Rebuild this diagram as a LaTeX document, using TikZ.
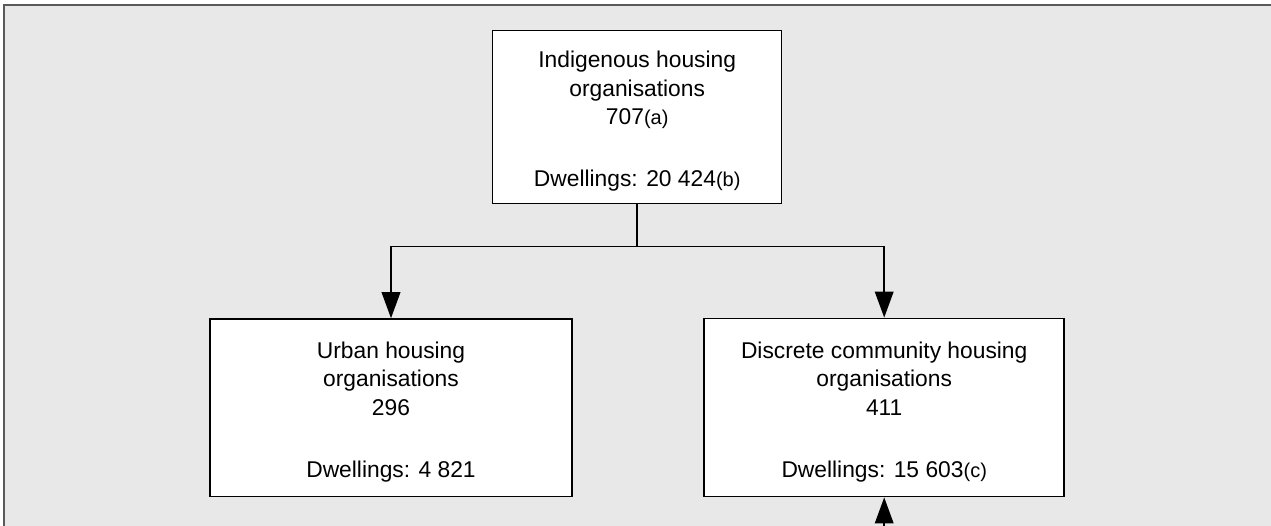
\documentclass[tikz,border=0pt]{standalone}
\usepackage{fontspec}
\setmainfont{Liberation Sans}
\usetikzlibrary{arrows.meta}
\definecolor{bggray}{HTML}{E8E8E8}
\definecolor{framegray}{HTML}{5A5A5A}
\newcommand{\fn}[1]{{\fontsize{15}{21.4}\selectfont #1}}
\tikzset{
  orgbox/.style={draw=black, fill=white, line width=1.1pt, inner sep=0pt},
  orgtxt/.style={align=center, inner sep=0pt, anchor=north, font=\fontsize{17.1}{21.4}\selectfont},
  link/.style={line width=1.1pt, black},
  arr/.style={link, -{Triangle[length=19.5pt, width=14pt]}}
}
\begin{document}
\begin{tikzpicture}[x=0.75pt, y=-0.75pt]
\useasboundingbox (0,0) rectangle (1271,525);
\clip (0,0) rectangle (1271,525);
\fill[bggray] (3.5,4.5) rectangle (1275,530);
\draw[framegray, line width=1.5pt] (3.5,530) -- (3.5,4.5) -- (1275,4.5);

\node[orgbox, minimum width=289*0.75pt, minimum height=172.6*0.75pt] (top) at (637.2,117) {};
\node[orgbox, minimum width=362*0.75pt, minimum height=177.7*0.75pt] (urban) at (391,407.8) {};
\node[orgbox, minimum width=360*0.75pt, minimum height=178.4*0.75pt] (disc) at (884.2,407.5) {};

\node[orgtxt] (toptxt) at (637.2,51) {Indigenous housing\\organisations\\707\fn{(a)}\\[24.7pt]Dwellings: 20 424\fn{(b)}};
\node[orgtxt] (urbantxt) at (391,341.5) {Urban housing\\organisations\\296\\[25.5pt]Dwellings: 4 821};
\node[orgtxt] (disctxt) at (884.2,341.5) {Discrete community housing\\organisations\\411\\[25.5pt]Dwellings: 15 603\fn{(c)}};

\coordinate (split) at (637.2,246.5);
\coordinate (bot) at (884.2,526);
\draw[link] (top.south) -- (split);
\draw[arr] (split) -| (urban.north);
\draw[arr] (split) -| (disc.north);
\draw[arr] (bot) -- (disc.south);
\end{tikzpicture}
\end{document}
